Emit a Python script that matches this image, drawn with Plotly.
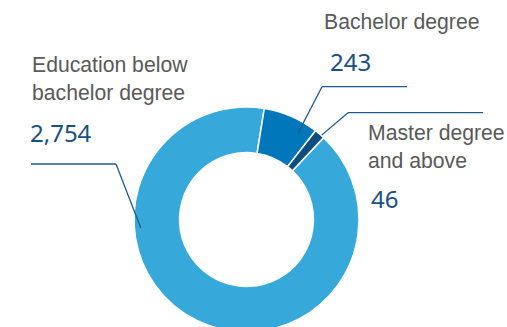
import math
import plotly.graph_objects as go

# Education attainment breakdown
categories = ["Education below bachelor degree", "Bachelor degree", "Master degree and above"]
label_lines = [["Education below", "bachelor degree"], ["Bachelor degree"], ["Master degree", "and above"]]
values = [2754, 243, 46]
value_labels = ["2,754", "243", "46"]
colors = ["#36A9DA", "#0077BA", "#0D4D80"]

W, H = 507, 340          # figure is a little taller than the view; the ring runs off the bottom
CX, CY, R = 246.5, 219.5, 112.5   # ring centre / outer radius in pixels

def px(x):
    return x / W

def py(y):
    return 1 - y / H

fig = go.Figure(
    go.Pie(
        labels=categories,
        values=values,
        marker=dict(colors=colors, line=dict(color="white", width=1.5)),
        hole=0.595,
        sort=False,
        direction="clockwise",
        rotation=43.3,
        textinfo="none",
        hoverinfo="label+value",
        domain=dict(x=[px(CX - R), px(CX + R)], y=[py(CY + R), py(CY - R)]),
        showlegend=False,
    )
)

LABEL_FONT = dict(family="Liberation Sans, Arial, sans-serif", size=21.2, color="#595959")
VALUE_FONT = dict(family="Noto Sans, Segoe UI, sans-serif", size=24, color="#1A4F82")
LINE = dict(color="#1F5A8C", width=1.3)

# (category text x, category text centre y, value x, value centre y) for each slice
label_pos = [(30, 79, 28, 133), (322, 22, 328, 61), (366, 146, 369, 198)]

for lines, val, (tx, ly, vx, vy) in zip(label_lines, value_labels, label_pos):
    fig.add_annotation(
        text="<br>".join(lines), x=px(tx), y=py(ly), xref="paper", yref="paper",
        xanchor="left", yanchor="middle", align="left", showarrow=False, font=LABEL_FONT,
    )
    fig.add_annotation(
        text=val, x=px(vx), y=py(vy), xref="paper", yref="paper",
        xanchor="left", yanchor="middle", align="left", showarrow=False, font=VALUE_FONT,
    )

# leader lines: horizontal rule, then a slanted run into the ring
def ring_point(angle_deg, r):
    a = math.radians(angle_deg)
    return CX + r * math.sin(a), CY - r * math.cos(a)

leaders = [
    # (rule start x, rule end x, rule y, ring angle, ring radius)
    (31, 116, 164, 265.4, 106),
    (407, 322, 86.7, 30.8, 101),
    (483, 348, 112.7, 41.7, 113),
]
for x0, x1, y0, ang, rr in leaders:
    ex, ey = ring_point(ang, rr)
    fig.add_shape(type="line", xref="paper", yref="paper",
                  x0=px(x0), y0=py(y0), x1=px(x1), y1=py(y0), line=LINE)
    fig.add_shape(type="line", xref="paper", yref="paper",
                  x0=px(x1), y0=py(y0), x1=px(ex), y1=py(ey), line=LINE)

fig.update_layout(
    width=W, height=H,
    margin=dict(l=0, r=0, t=0, b=0),
    paper_bgcolor="white", plot_bgcolor="white",
)

fig.write_html(
    "out.html",
    post_script="document.documentElement.style.overflow='hidden';document.body.style.overflow='hidden';",
)
